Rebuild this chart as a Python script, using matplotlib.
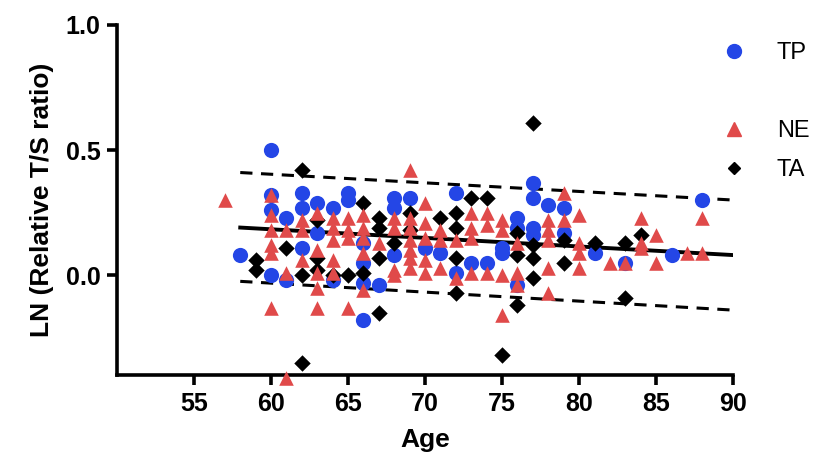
#!/usr/bin/env python3

import numpy as np
import matplotlib.pyplot as plt
from matplotlib.lines import Line2D

plt.rcParams['font.family'] = ['Liberation Sans', 'DejaVu Sans']

# TP (blue circles)
tp_age = [58, 60, 60, 60, 60, 61, 61, 62, 62, 62, 63, 63, 64, 64, 65, 65,
          66, 66, 66, 66, 67, 68, 68, 68, 69, 70, 71, 72, 72, 73, 74, 75, 75,
          76, 76, 76, 77, 77, 77, 77, 78, 79, 79, 81, 83, 86, 88]
tp_val = [0.08, 0.50, 0.32, 0.26, 0.00, 0.23, -0.02, 0.33, 0.27, 0.11, 0.29, 0.17,
          0.27, -0.02, 0.33, 0.30, 0.13, 0.05, -0.03, -0.18, -0.04, 0.31, 0.27,
          0.08, 0.31, 0.11, 0.09, 0.33, 0.01, 0.05, 0.05, 0.11, 0.09, 0.23, 0.19,
          -0.04, 0.37, 0.31, 0.19, 0.16, 0.28, 0.27, 0.17, 0.09, 0.05, 0.08, 0.30]

# NE (red triangles)
ne_age = [57, 60, 60, 60, 60, 60, 60, 61, 61, 61, 62, 62, 62,
          63, 63, 63, 63, 63, 64, 64, 64, 64, 64, 65, 65, 65, 65,
          66, 66, 66, 66, 66, 67, 68, 68, 68, 68,
          69, 69, 69, 69, 69, 69, 69, 70, 70, 70, 70, 70, 71, 71, 71, 72, 72,
          73, 73, 73, 73, 74, 74, 74, 75, 75, 75, 75, 76, 76, 76,
          78, 78, 78, 78, 78, 79, 79, 80, 80, 80, 80, 82, 83,
          84, 84, 84, 85, 85, 87, 88, 88]
ne_val = [0.30, 0.32, 0.24, 0.18, 0.12, 0.09, -0.13, 0.18, 0.01, -0.41, 0.22, 0.18, 0.06,
          0.25, 0.10, 0.01, -0.05, -0.13, 0.23, 0.19, 0.14, 0.06, 0.01, 0.23, 0.18, 0.15, -0.13,
          0.24, 0.19, 0.15, 0.09, -0.06, 0.13, 0.23, 0.19, 0.02, 0.00,
          0.42, 0.23, 0.19, 0.14, 0.10, 0.07, 0.03, 0.29, 0.21, 0.15, 0.06, 0.01, 0.18, 0.14, 0.03,
          0.14, -0.01, 0.25, 0.19, 0.15, 0.01, 0.25, 0.20, 0.01, 0.22, 0.18, 0.00, -0.16,
          0.13, 0.01, -0.04, 0.22, 0.18, 0.14, 0.03, -0.07, 0.33, 0.22, 0.24, 0.13, 0.09, 0.03,
          0.05, 0.05, 0.23, 0.13, 0.11, 0.16, 0.05, 0.09, 0.23, 0.09]

# TA (black diamonds)
ta_age = [59, 59, 61, 62, 62, 62, 63, 63, 63, 64, 65, 66, 66, 67, 67, 67, 67, 68,
          69, 69, 71, 72, 72, 72, 72, 73, 74, 75, 76, 76, 76, 77, 77, 77, 77,
          79, 79, 81, 83, 83, 84]
ta_val = [0.06, 0.02, 0.11, 0.42, 0.00, -0.35, 0.22, 0.07, 0.02, 0.00, 0.00, 0.29, 0.01,
          0.23, 0.19, 0.07, -0.15, 0.13, 0.25, 0.18, 0.23, 0.25, 0.19, 0.07, -0.07,
          0.31, 0.31, -0.32, 0.17, 0.08, -0.12, 0.61, 0.12, 0.07, -0.01,
          0.14, 0.05, 0.13, 0.13, -0.09, 0.16]

# regression line and 95% prediction band
fit_age = [58, 90]
fit_mid = [0.19, 0.08]
fit_upper = [0.41, 0.30]
fit_lower = [-0.025, -0.14]

blue = '#2446e6'
red = '#e04a4a'

fig = plt.figure(figsize=(8.27, 4.62), dpi=100)
ax = fig.add_axes([0.1415, 0.188, 0.745, 0.758])

ax.plot(fit_age, fit_mid, color='black', lw=2.8, zorder=1)
ax.plot(fit_age, fit_upper, color='black', lw=2.2, ls=(0, (4, 2.8)), zorder=1)
ax.plot(fit_age, fit_lower, color='black', lw=2.2, ls=(0, (4, 2.8)), zorder=1)

ax.scatter(tp_age, tp_val, s=120, marker='o', color=blue, lw=0, zorder=2, clip_on=False)
ax.scatter(ta_age, ta_val, s=70, marker='D', color='black', lw=0, zorder=3, clip_on=False)
ax.scatter(ne_age, ne_val, s=110, marker='^', color=red, lw=0, zorder=4, clip_on=False)

ax.set_xlim(50, 90)
ax.set_ylim(-0.4, 1.0)
ax.set_xticks(np.arange(55, 91, 5))
ax.set_yticks([0.0, 0.5, 1.0])
ax.set_yticklabels(['0.0', '0.5', '1.0'])

for s in ['top', 'right']:
    ax.spines[s].set_visible(False)
for s in ['left', 'bottom']:
    ax.spines[s].set_linewidth(2.6)
ax.tick_params(width=2.6, length=7, labelsize=18, pad=5)
for lab in ax.get_xticklabels() + ax.get_yticklabels():
    lab.set_fontweight('bold')

ax.set_xlabel('Age', fontsize=19, fontweight='bold', labelpad=9)
ax.set_ylabel('LN (Relative T/S ratio)', fontsize=19, fontweight='bold', labelpad=8)

handles = [
    Line2D([], [], marker='o', ls='', color=blue, markersize=10),
    Line2D([], [], ls='', marker=''),
    Line2D([], [], marker='^', ls='', color=red, markersize=10),
    Line2D([], [], marker='D', ls='', color='black', markersize=6.5),
]
ax.legend(handles, ['TP', '', 'NE', 'TA'], loc='upper left',
          bbox_to_anchor=(0.848, 0.93), bbox_transform=fig.transFigure,
          frameon=False, fontsize=17, handletextpad=0.8, labelspacing=0.72,
          borderaxespad=0)

fig.savefig('out.png', dpi=100)
